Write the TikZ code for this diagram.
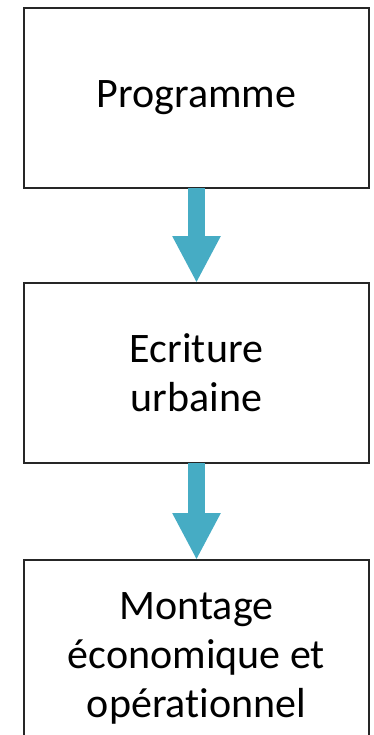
\documentclass[tikz,border=0pt]{standalone}
\usepackage{fontspec}
\setmainfont{Carlito}[Ligatures=NoCommon]
\usetikzlibrary{positioning,arrows.meta}
\definecolor{flowteal}{RGB}{70,172,196}
\begin{document}
\begin{tikzpicture}[
stage/.style={draw=black!85,line width=1.6pt,fill=white,
  minimum width=345pt,minimum height=180pt,align=center,
  outer sep=0pt,font=\fontsize{42}{49}\selectfont},
flow/.style={flowteal,line width=17pt,
  -{Triangle[width=45pt,length=47pt]}}]
\useasboundingbox (0,0) rectangle (373pt,-735pt);
\node [stage] (prog) at (196.5pt,-98pt) {Programme};
\node [stage,below=95pt of prog] (ecri) {Ecriture\\urbaine};
\node [stage,below=97pt of ecri,minimum height=196pt] (mont)
  {Montage\\économique et\\opérationnel};
\draw [flow] (prog.south) -- (ecri.north);
\draw [flow] (ecri.south) -- (mont.north);
\end{tikzpicture}
\end{document}
